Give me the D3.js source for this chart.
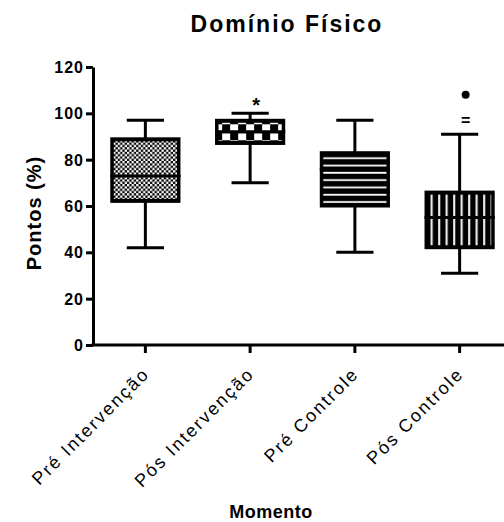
<!DOCTYPE html>
<html>
<head>
<meta charset="utf-8">
<script src="https://cdn.jsdelivr.net/npm/d3@7"></script>
<style>
  body { margin: 0; background: #fff; }
  text { font-family: "Liberation Sans", Arial, sans-serif; }
</style>
</head>
<body>
<div id="chart"></div>
<script>
// box plot values (Pontos %)
var categories = ["Pré Intervenção", "Pós Intervenção", "Pré Controle", "Pós Controle"];
var mins    = [42, 70, 40, 31];
var q1s     = [62, 87, 60, 42];
var medians = [73, 92, 76, 55];
var q3s     = [89, 97, 83, 66];
var maxs    = [97, 100, 97, 91];
var patterns = ["checkSmall", "checkBig", "hStripes", "vStripes"];

// outlier dots and significance marks
var outlierCats = ["Pós Controle"];
var outlierVals = [108];
var markCats = ["Pós Intervenção", "Pós Controle"];
var markText = ["*", "="];
var markVals = [107, 97];

var yTicks = [0, 20, 40, 60, 80, 100, 120];

var width = 504, height = 522;

var svg = d3.select("#chart").append("svg")
    .attr("width", width)
    .attr("height", height);

var xScale = d3.scaleBand().domain(categories).range([93, 512]);
var yScale = d3.scaleLinear().domain([0, 120]).range([345, 67]);

var boxW = xScale.bandwidth() * 0.67;
var capW = boxW * 0.53;

var boxes = categories.map(function(c, i) {
    return { cat: c, min: mins[i], q1: q1s[i], med: medians[i], q3: q3s[i], max: maxs[i], pat: patterns[i] };
});

// fill patterns
var defs = svg.append("defs");

var p1 = defs.append("pattern").attr("id", "checkSmall")
    .attr("patternUnits", "userSpaceOnUse").attr("width", 4.6).attr("height", 4.6);
p1.append("rect").attr("width", 4.6).attr("height", 4.6).attr("fill", "#000");
p1.append("rect").attr("width", 2.3).attr("height", 2.3).attr("fill", "#fff");
p1.append("rect").attr("x", 2.3).attr("y", 2.3).attr("width", 2.3).attr("height", 2.3).attr("fill", "#fff");

var p2 = defs.append("pattern").attr("id", "checkBig")
    .attr("patternUnits", "userSpaceOnUse").attr("width", 16).attr("height", 16)
    .attr("x", xScale("Pós Intervenção") + xScale.bandwidth() / 2 - boxW / 2 + 5)
    .attr("y", yScale(q3s[1]) + 4);
p2.append("rect").attr("width", 16).attr("height", 16).attr("fill", "#000");
p2.append("rect").attr("width", 8).attr("height", 7).attr("fill", "#fff");
p2.append("rect").attr("x", 8).attr("y", 9).attr("width", 8).attr("height", 7).attr("fill", "#fff");

var p3 = defs.append("pattern").attr("id", "hStripes")
    .attr("patternUnits", "userSpaceOnUse").attr("width", 10).attr("height", 7.3)
    .attr("y", yScale(q3s[2]) + 2);
p3.append("rect").attr("width", 10).attr("height", 7.3).attr("fill", "#000");
p3.append("rect").attr("y", 2.6).attr("width", 10).attr("height", 1.8).attr("fill", "#fff");

var p4 = defs.append("pattern").attr("id", "vStripes")
    .attr("patternUnits", "userSpaceOnUse").attr("width", 7.5).attr("height", 10)
    .attr("x", xScale("Pós Controle") + xScale.bandwidth() / 2 - boxW / 2 + 1);
p4.append("rect").attr("width", 7.5).attr("height", 10).attr("fill", "#000");
p4.append("rect").attr("x", 3).attr("width", 2).attr("height", 10).attr("fill", "#fff");

// title
svg.append("text")
    .attr("x", 287).attr("y", 32)
    .attr("text-anchor", "middle")
    .attr("font-size", 23).attr("font-weight", "bold")
    .attr("letter-spacing", 2)
    .text("Domínio Físico");

// axes
var yAxis = svg.append("g")
    .attr("transform", "translate(93,0)")
    .call(d3.axisLeft(yScale).tickValues(yTicks).tickSize(7).tickSizeOuter(0));
yAxis.select(".domain").attr("stroke-width", 3);
yAxis.selectAll(".tick line").attr("stroke-width", 3);
yAxis.selectAll(".tick text")
    .attr("font-size", 16).attr("font-weight", "bold")
    .attr("letter-spacing", 1)
    .attr("font-family", "Liberation Sans, Arial, sans-serif")
    .attr("fill", "#000").attr("x", -9).attr("dy", "0.35em");

var xAxis = svg.append("g")
    .attr("transform", "translate(0,345)")
    .call(d3.axisBottom(xScale).tickSize(8).tickSizeOuter(0));
xAxis.select(".domain").attr("stroke-width", 3).attr("d", "M91.5,0H512");
xAxis.selectAll(".tick line").attr("stroke-width", 3);
xAxis.selectAll(".tick text")
    .attr("font-size", 18)
    .attr("letter-spacing", 2)
    .attr("font-family", "Liberation Sans, Arial, sans-serif")
    .attr("fill", "#000")
    .attr("text-anchor", "end")
    .attr("transform", "translate(5,30) rotate(-45)")
    .attr("x", 0).attr("y", 0).attr("dy", 0);

// axis titles
svg.append("text")
    .attr("transform", "translate(41,213) rotate(-90)")
    .attr("text-anchor", "middle")
    .attr("font-size", 20).attr("font-weight", "bold")
    .attr("letter-spacing", 1)
    .text("Pontos (%)");

svg.append("text")
    .attr("x", 271).attr("y", 518)
    .attr("text-anchor", "middle")
    .attr("font-size", 18).attr("font-weight", "bold")
    .attr("letter-spacing", 0.5)
    .text("Momento");

// box plots
var g = svg.append("g").selectAll("g")
    .data(boxes).enter().append("g")
    .attr("transform", function(d) { return "translate(" + (xScale(d.cat) + xScale.bandwidth() / 2) + ",0)"; });

// whiskers
g.append("line")
    .attr("x1", 0).attr("x2", 0)
    .attr("y1", function(d) { return yScale(d.max); })
    .attr("y2", function(d) { return yScale(d.min); })
    .attr("stroke", "#000").attr("stroke-width", 3);
g.append("line")
    .attr("x1", -capW / 2).attr("x2", capW / 2)
    .attr("y1", function(d) { return yScale(d.max); })
    .attr("y2", function(d) { return yScale(d.max); })
    .attr("stroke", "#000").attr("stroke-width", 3);
g.append("line")
    .attr("x1", -capW / 2).attr("x2", capW / 2)
    .attr("y1", function(d) { return yScale(d.min); })
    .attr("y2", function(d) { return yScale(d.min); })
    .attr("stroke", "#000").attr("stroke-width", 3);

// box outline (black) then the patterned inside
g.append("rect")
    .attr("x", -boxW / 2)
    .attr("y", function(d) { return yScale(d.q3) - 1.5; })
    .attr("width", boxW)
    .attr("height", function(d) { return yScale(d.q1) - yScale(d.q3) + 3; })
    .attr("fill", "#000");
g.append("rect")
    .attr("x", -boxW / 2 + 3.5)
    .attr("y", function(d) { return yScale(d.q3) + 2.5; })
    .attr("width", boxW - 7)
    .attr("height", function(d) { return yScale(d.q1) - yScale(d.q3) - 5; })
    .attr("fill", function(d) { return "url(#" + d.pat + ")"; });

// medians
g.append("line")
    .attr("x1", -boxW / 2).attr("x2", boxW / 2)
    .attr("y1", function(d) { return yScale(d.med); })
    .attr("y2", function(d) { return yScale(d.med); })
    .attr("stroke", "#000").attr("stroke-width", 3);

// outliers
svg.append("g").selectAll("circle")
    .data(outlierVals).enter().append("circle")
    .attr("cx", function(d, i) { return xScale(outlierCats[i]) + xScale.bandwidth() / 2 + 6; })
    .attr("cy", function(d) { return yScale(d); })
    .attr("r", 4)
    .attr("fill", "#000");

// significance marks
svg.append("g").selectAll("text")
    .data(markVals).enter().append("text")
    .attr("x", function(d, i) { return xScale(markCats[i]) + xScale.bandwidth() / 2 + 6; })
    .attr("y", function(d) { return yScale(d); })
    .attr("dy", function(d, i) { return i === 0 ? "0.72em" : "0.35em"; })
    .attr("text-anchor", "middle")
    .attr("font-size", function(d, i) { return i === 0 ? 20 : 16; })
    .attr("font-weight", "bold")
    .text(function(d, i) { return markText[i]; });
</script>
</body>
</html>
